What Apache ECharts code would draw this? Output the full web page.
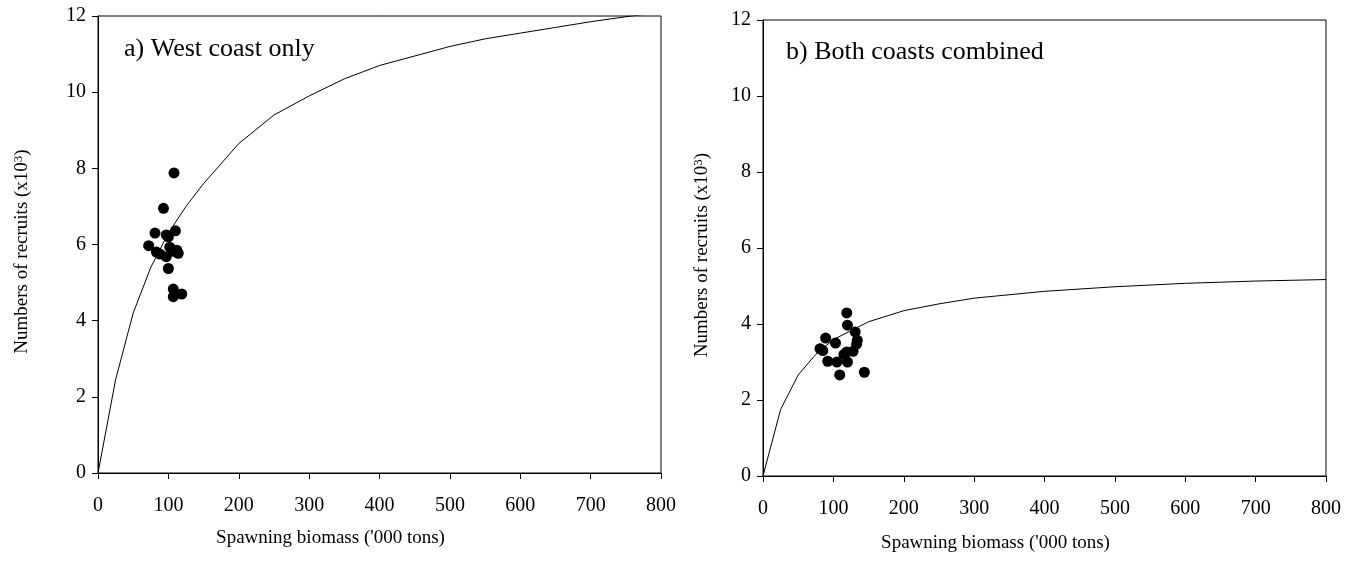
<!DOCTYPE html>
<html style="height: 100%">
<head>
    <meta charset="utf-8">
</head>
<body style="height: 100%; margin: 0; background: #fff">
    <div id="main" style="width: 1359px; height: 561px"></div>
    <script type="text/javascript" src="https://cdn.jsdelivr.net/npm/echarts@6/dist/echarts.min.js"></script>
    <script type="text/javascript">
        // panel a: west coast only
        var westPoints = [
            [72, 5.97], [81, 6.3], [83, 5.8], [88, 5.75], [93, 6.95], [97, 6.25],
            [97, 5.68], [100, 6.2], [102, 5.93], [100, 5.37], [107, 5.82], [108, 7.88],
            [110, 6.36], [112, 5.85], [114, 5.77], [107, 4.83], [107, 4.63], [119, 4.7]
        ];
        var westCurveX = [0, 25, 50, 75, 100, 125, 150, 200, 250, 300, 350, 400, 450, 500, 550, 600, 650, 700, 750, 800];
        var westCurveY = [0, 2.45, 4.2, 5.4, 6.3, 7.0, 7.6, 8.65, 9.4, 9.9, 10.35, 10.7, 10.95, 11.2, 11.4, 11.55, 11.7, 11.85, 11.98, 12.1];

        // panel b: both coasts combined
        var bothPoints = [
            [81, 3.35], [85, 3.3], [89, 3.63], [92, 3.02], [103, 3.5], [105, 3.0],
            [109, 2.66], [115, 3.2], [119, 4.29], [120, 3.97], [119, 3.26], [120, 3.0],
            [128, 3.28], [131, 3.79], [133, 3.47], [134, 3.57], [144, 2.73]
        ];
        var bothCurveX = [0, 25, 50, 75, 100, 150, 200, 250, 300, 400, 500, 600, 700, 800];
        var bothCurveY = [0, 1.75, 2.66, 3.2, 3.59, 4.06, 4.35, 4.53, 4.68, 4.86, 4.98, 5.07, 5.13, 5.17];

        var xTicks = [0, 100, 200, 300, 400, 500, 600, 700, 800];
        var yTicks = [0, 2, 4, 6, 8, 10, 12];

        function pairs(xs, ys) {
            var out = [];
            for (let i = 0; i < xs.length; i++) {
                out.push([xs[i], ys[i]]);
            }
            return out;
        }

        var font = 'Liberation Serif';

        function xAxisFor(idx, gap, margin) {
            return {
                gridIndex: idx,
                type: 'value',
                min: xTicks[0],
                max: xTicks[xTicks.length - 1],
                interval: 100,
                name: "Spawning biomass ('000 tons)",
                nameLocation: 'middle',
                nameGap: gap,
                // name sits a bit left of the axis centre in the original
                nameTextStyle: { fontFamily: font, fontSize: 19, color: '#000', padding: [0, 98, 0, 0] },
                axisLine: { show: true, onZero: false, lineStyle: { color: '#000', width: 1 } },
                axisTick: { show: true, inside: false, length: 6, lineStyle: { color: '#000' } },
                axisLabel: { fontFamily: font, fontSize: 20, color: '#000', margin: margin },
                splitLine: { show: false }
            };
        }

        function yAxisFor(idx, gap) {
            return {
                gridIndex: idx,
                type: 'value',
                min: yTicks[0],
                max: yTicks[yTicks.length - 1],
                interval: 2,
                name: 'Numbers of recruits (x10{sup|3})',
                nameLocation: 'middle',
                nameGap: gap,
                nameRotate: 90,
                nameTextStyle: {
                    fontFamily: font, fontSize: 19, color: '#000', padding: [0, 14, 0, 0],
                    rich: {
                        sup: { fontFamily: font, fontSize: 13, color: '#000', verticalAlign: 'top', padding: [0, 0, 8, 0] }
                    }
                },
                axisLine: { show: true, onZero: false, lineStyle: { color: '#000', width: 1 } },
                axisTick: { show: true, inside: false, length: 6, lineStyle: { color: '#000' } },
                axisLabel: { fontFamily: font, fontSize: 20, color: '#000', margin: 12 },
                splitLine: { show: false }
            };
        }

        var chart = echarts.init(document.getElementById('main'));

        var option = {
            backgroundColor: '#fff',
            animation: false,
            title: [
                { text: 'a) West coast only', left: 119, top: 31, textStyle: { fontFamily: font, fontSize: 26, fontWeight: 'normal', color: '#000' } },
                { text: 'b) Both coasts combined', left: 781, top: 34, textStyle: { fontFamily: font, fontSize: 26, fontWeight: 'normal', color: '#000' } }
            ],
            grid: [
                { left: 98, top: 16, width: 563, height: 457, show: true, borderColor: '#000', borderWidth: 1, backgroundColor: 'transparent' },
                { left: 763, top: 20, width: 563, height: 456, show: true, borderColor: '#000', borderWidth: 1, backgroundColor: 'transparent' }
            ],
            xAxis: [xAxisFor(0, 56, 23), xAxisFor(1, 58, 23)],
            yAxis: [yAxisFor(0, 65), yAxisFor(1, 50)],
            series: [
                {
                    type: 'line', xAxisIndex: 0, yAxisIndex: 0,
                    data: pairs(westCurveX, westCurveY),
                    showSymbol: false, symbol: 'none', clip: true,
                    lineStyle: { color: '#000', width: 1 }
                },
                {
                    type: 'scatter', xAxisIndex: 0, yAxisIndex: 0,
                    data: westPoints, symbolSize: 11,
                    itemStyle: { color: '#000', opacity: 1 }
                },
                {
                    type: 'line', xAxisIndex: 1, yAxisIndex: 1,
                    data: pairs(bothCurveX, bothCurveY),
                    showSymbol: false, symbol: 'none', clip: true,
                    lineStyle: { color: '#000', width: 1 }
                },
                {
                    type: 'scatter', xAxisIndex: 1, yAxisIndex: 1,
                    data: bothPoints, symbolSize: 11,
                    itemStyle: { color: '#000', opacity: 1 }
                }
            ]
        };

        chart.setOption(option);
    </script>
</body>
</html>
